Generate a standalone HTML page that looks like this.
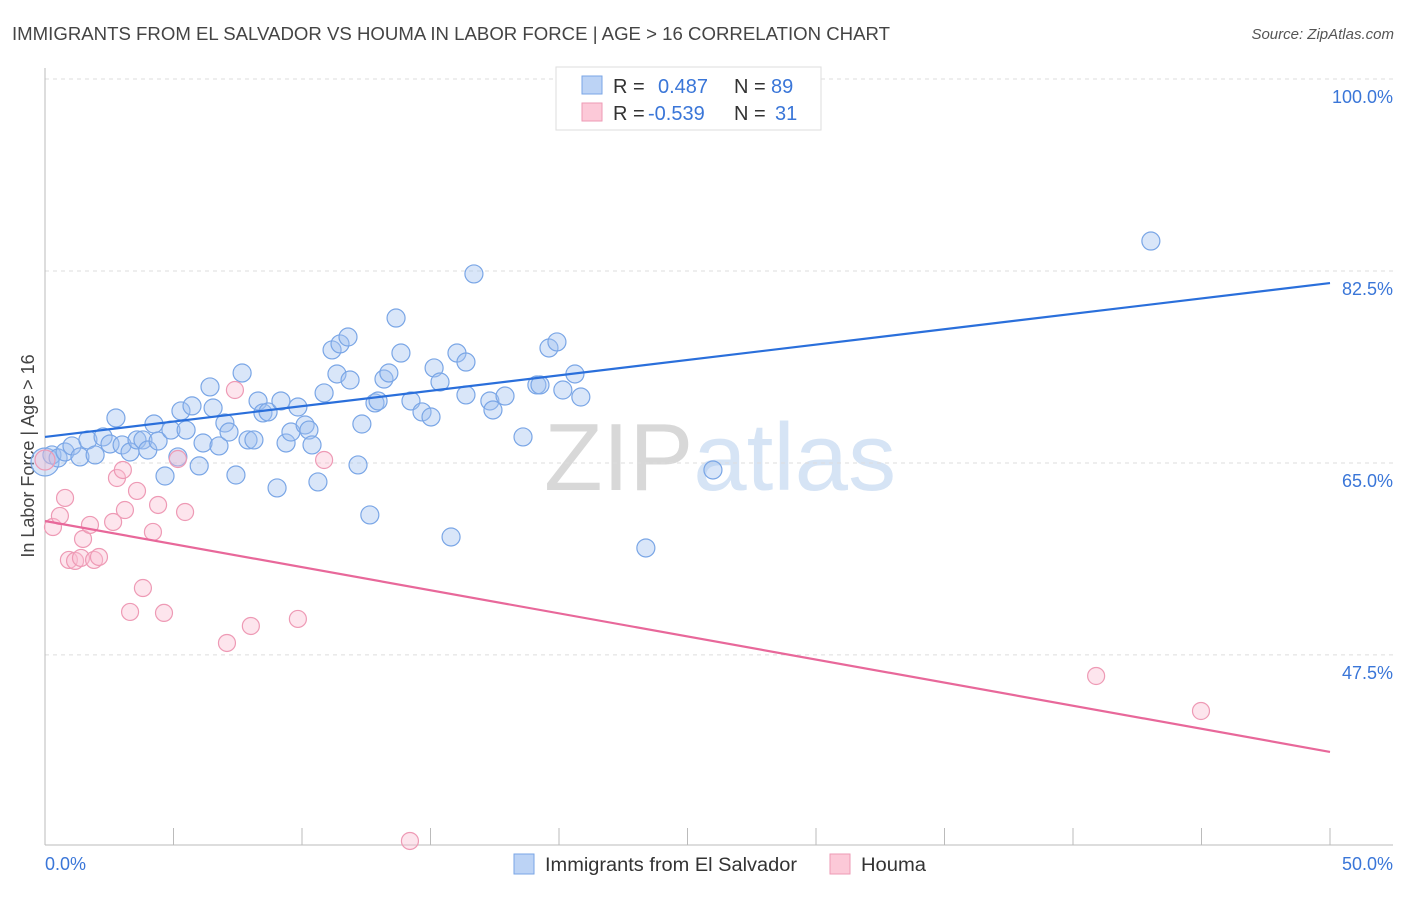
<!DOCTYPE html>
<html><head><meta charset="utf-8"><style>
body{margin:0;background:#fff;font-family:"Liberation Sans",sans-serif}
svg text{font-family:"Liberation Sans",sans-serif}
</style></head><body>
<svg id="c" width="1406" height="892">
<text x="12" y="40" font-size="18" fill="#444" textLength="878" lengthAdjust="spacingAndGlyphs">IMMIGRANTS FROM EL SALVADOR VS HOUMA IN LABOR FORCE | AGE &gt; 16 CORRELATION CHART</text>
<text x="1394" y="39" font-size="15" fill="#555" text-anchor="end" font-style="italic">Source: ZipAtlas.com</text>
<text x="720" y="490" font-size="96" fill="#ddd" text-anchor="middle" font-family="Liberation Serif"><tspan fill="#d8d8d8">ZIP</tspan><tspan fill="#d6e4f5" font-family="Liberation Sans">atlas</tspan></text>
<text transform="translate(34,456) rotate(-90)" font-size="18" fill="#444" text-anchor="middle">In Labor Force | Age &gt; 16</text>
<g id="grid"></g><g id="marks"></g>
<g>
<rect x="556" y="67" width="265" height="63" fill="#fff" stroke="#ddd"/>
<rect x="582" y="76" width="20" height="18" fill="#bcd3f5" stroke="#7aa6e6"/>
<rect x="582" y="103" width="20" height="18" fill="#fcc9d8" stroke="#ee9ab5"/>
<text x="613" y="93" font-size="20" fill="#333">R = <tspan fill="#3a76d8" x="658">0.487</tspan><tspan x="734" fill="#333">N = </tspan><tspan fill="#3a76d8" x="771">89</tspan></text>
<text x="613" y="120" font-size="20" fill="#333">R = <tspan fill="#3a76d8" x="648">-0.539</tspan><tspan x="734" fill="#333">N = </tspan><tspan fill="#3a76d8" x="775">31</tspan></text>
</g>
<g>
<rect x="514" y="854" width="20" height="20" fill="#bcd3f5" stroke="#7aa6e6"/>
<text x="545" y="871" font-size="19" fill="#333" textLength="252" lengthAdjust="spacingAndGlyphs">Immigrants from El Salvador</text>
<rect x="830" y="854" width="20" height="20" fill="#fcc9d8" stroke="#ee9ab5"/>
<text x="861" y="871" font-size="19" fill="#333" textLength="65" lengthAdjust="spacingAndGlyphs">Houma</text>
</g>
</svg>
<script>
const blueX=[0,0.27,0.51,0.78,1.05,1.36,1.67,1.95,2.26,2.53,2.76,3.0,3.31,3.58,3.81,4.0,4.24,4.4,4.67,4.9,5.17,5.29,5.49,5.72,6.0,6.15,6.42,6.54,6.77,7.0,7.16,7.43,7.67,7.9,8.13,8.29,8.48,8.68,9.03,9.18,9.38,9.57,9.84,10.12,10.27,10.39,10.62,10.86,11.17,11.36,11.48,11.79,11.87,12.18,12.33,12.64,12.84,12.96,13.19,13.38,13.66,13.85,14.24,14.67,15.02,15.14,15.37,15.8,16.03,16.38,16.38,16.69,17.31,17.43,17.9,18.6,19.14,19.26,19.61,19.92,20.15,20.62,20.85,23.38,25.99,43.03];
const blueY=[65.09,65.73,65.45,66.0,66.55,65.55,67.1,65.73,67.37,66.73,69.1,66.64,66.0,67.1,67.1,66.18,68.55,67.0,63.81,68.0,65.55,69.74,68.0,70.2,64.73,66.82,71.93,70.01,66.55,68.64,67.82,63.9,73.2,67.1,67.1,70.65,69.56,69.65,62.72,70.65,66.82,67.82,70.1,68.46,68.0,66.64,63.27,71.38,75.3,73.11,75.85,76.48,72.56,64.82,68.55,60.26,70.47,70.65,72.65,73.2,78.21,75.02,70.65,69.65,69.19,73.66,72.38,58.25,75.02,71.2,74.2,82.23,70.65,69.83,71.1,67.37,72.11,72.11,75.48,76.03,71.65,73.11,71.01,57.25,64.36,85.23];
const pinkX=[0,0.31,0.58,0.78,0.93,1.17,1.48,1.4,1.75,1.91,2.1,2.65,2.8,3.03,3.11,3.31,3.58,3.81,4.2,4.4,4.63,5.17,5.45,7.08,7.39,8.01,9.84,10.86,14.2,40.9,44.98];
const pinkY=[65.27,59.16,60.17,61.81,56.16,56.07,58.07,56.34,59.35,56.16,56.43,59.62,63.63,64.36,60.71,51.42,62.45,53.6,58.71,61.17,51.33,65.36,60.53,48.59,71.65,50.14,50.78,65.27,30.54,45.58,42.39];
const blueLine=[67.37,81.4];
const pinkLine=[59.71,38.66];
const yTicks=[100,82.5,65,47.5];
const yTickLabels=["100.0%","82.5%","65.0%","47.5%"];
const xTicks=[0,5,10,15,20,25,30,35,40,45,50];
const xTickLabels=["0.0%","50.0%"];
const NS="http://www.w3.org/2000/svg";
const X=v=>45+v/50*1285, Y=v=>79+(100-v)*10.97;
function mk(t,a,p){const e=document.createElementNS(NS,t);for(const k in a)e.setAttribute(k,a[k]);p.appendChild(e);return e;}
const g=document.getElementById('grid'),m=document.getElementById('marks');
yTicks.forEach((t,i)=>{
 const l=mk('line',{x1:45,x2:1393,y1:Y(t),y2:Y(t),stroke:'#ddd','stroke-dasharray':'4,4'},g);
 
 
 const tx=mk('text',{x:1393,y:Y(t)+24,'font-size':18,fill:'#3a76d8','text-anchor':'end'},g);
 tx.textContent=yTickLabels[i];
 
 
});
const ax=mk('line',{x1:45,x2:1393,y1:845,y2:845,stroke:'#bbb'},g);


const ay=mk('line',{x1:45,x2:45,y1:68,y2:845,stroke:'#bbb'},g);


xTicks.forEach(t=>{
 const l=mk('line',{x1:X(t),x2:X(t),y1:828,y2:845,stroke:'#bbb'},g);
 
 
});
[[0,'start',45],[50,'end',1393]].forEach(([v,a,x],i)=>{
 const tx=mk('text',{x:x,y:870,'font-size':18,fill:'#3a76d8','text-anchor':a},g);
 tx.textContent=xTickLabels[i];
 
 
});
blueX.forEach((v,i)=>{
 const c=mk('circle',{cx:X(v),cy:Y(blueY[i]),r:i==0?14:9,fill:'rgba(160,192,240,0.4)',stroke:'#7aa6e6','stroke-width':1.2},m);
 
 
});
pinkX.forEach((v,i)=>{
 const c=mk('circle',{cx:X(v),cy:Y(pinkY[i]),r:i==0?10:8.5,fill:'rgba(250,190,210,0.4)',stroke:'#ee9ab5','stroke-width':1.2},m);
 
 
});
const bl=mk('line',{x1:X(0),y1:Y(blueLine[0]),x2:X(50),y2:Y(blueLine[1]),stroke:'#2a6fdb','stroke-width':2.2},m);


const pl=mk('line',{x1:X(0),y1:Y(pinkLine[0]),x2:X(50),y2:Y(pinkLine[1]),stroke:'#e8689a','stroke-width':2.2},m);


</script>
</body></html>
